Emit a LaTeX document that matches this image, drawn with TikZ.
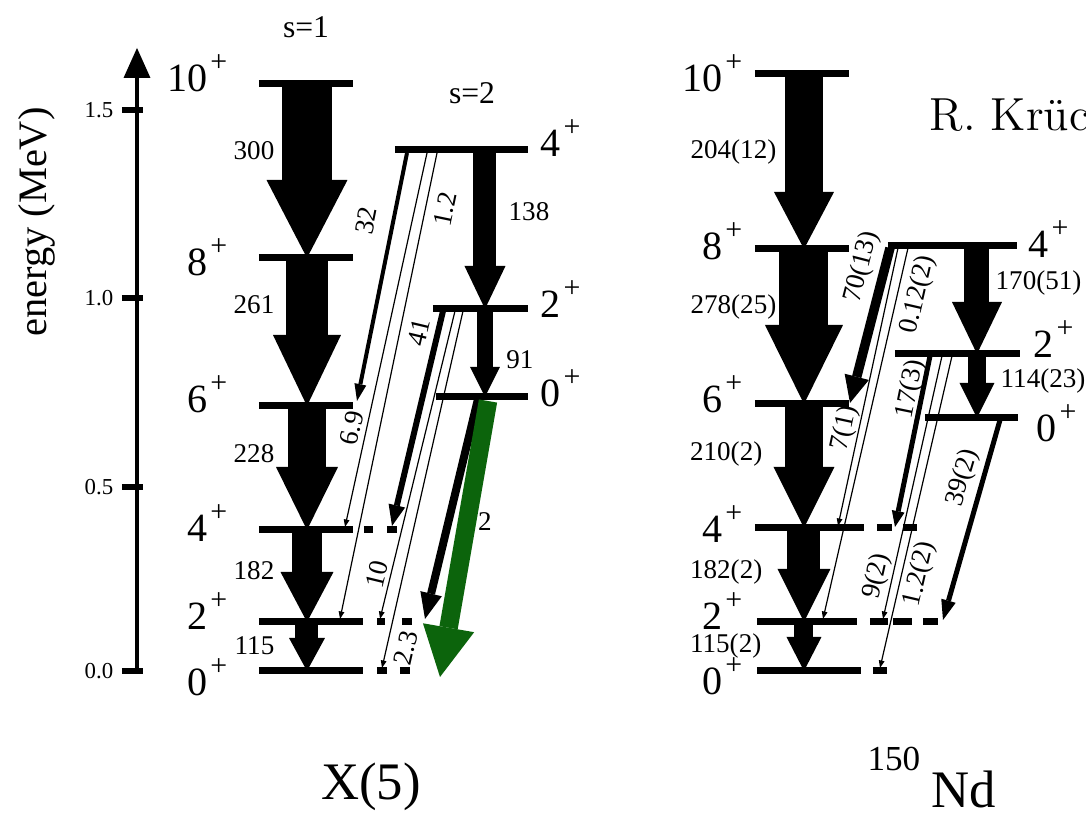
\documentclass[tikz,border=0pt]{standalone}
\usepackage{fontspec}
\setmainfont{Liberation Serif}
\newfontfamily\lmfont{lmroman12-regular.otf}
\usetikzlibrary{arrows.meta}
\definecolor{verde}{RGB}{12,100,12}
\newcommand{\spinp}[1]{#1\kern0.3mm\raisebox{0.5em}{\fontsize{8.5}{9}\selectfont +}}

\begin{document}
\begin{tikzpicture}[
    x=0.1mm, y=-0.1mm,
    livello/.style={
        line width=0.7mm
    },
    grossa/.style n args={3}{
        line width=#1,
        -{Triangle[width=#2, length=#3, line width=0pt]}
    },
    sottile/.style={
        line width=0.12mm,
        -{Triangle[width=0.55mm, length=0.75mm]}
    },
    spin/.style={
        inner sep=0pt,
        font=\fontsize{11.4}{12}\selectfont
    },
    bee/.style={
        inner sep=0pt,
        font=\fontsize{7.7}{8}\selectfont
    },
    scala/.style={
        inner sep=0pt,
        font=\fontsize{6.5}{7}\selectfont
    }
]
    \useasboundingbox (0,0) rectangle (1086,814);

    % Asse delle energie
    \coordinate (asse0) at (137,673);
    \coordinate (asse1) at (137,48);
    \draw[line width=0.4mm, -{Triangle[width=2.7mm, length=3mm, line width=0pt]}] (asse0) -- (asse1);
    \foreach \y/\t [count=\i] in {110/1.5, 298/1.0, 487/0.5, 671/0.0} {
        \draw[line width=0.6mm] (122,\y) -- (143,\y);
        \node[scala, anchor=east] (tacca\i) at (114,\y) {\t};
    }
    \node[rotate=90, font=\fontsize{11.5}{12}\selectfont] (energia) at (37,222) {energy (MeV)};

    % X(5): banda s=1
    \node[font=\fontsize{9}{10}\selectfont] (s1) at (306,27) {s=1};
    \foreach \y in {84, 258, 406, 530} \draw[livello] (259,\y) -- (353,\y);
    \foreach \y in {622, 671} \draw[livello] (259,\y) -- (363,\y);
    \draw[livello] (364,530) -- (373,530);  \draw[livello] (387,530) -- (397,530);
    \draw[livello] (377,622) -- (385,622);  \draw[livello] (402,622) -- (412,622);
    \draw[livello] (377,671) -- (387,671);  \draw[livello] (400,671) -- (410,671);
    \foreach \j/\y in {10/92, 8/276, 6/413, 4/542, 2/630, 0/696}
        \node[spin, anchor=base east] (xl\j) at (228,\y) {\spinp{\j}};

    \coordinate (x10) at (307,84);
    \coordinate (x8) at (307,258);
    \coordinate (x6) at (307,406);
    \coordinate (x4) at (307,530);
    \coordinate (x2) at (307,622);
    \coordinate (x0) at (307,671);
    \draw[grossa={5mm}{8.1mm}{7.8mm}] (x10) -- (x8);
    \draw[grossa={4.3mm}{6.8mm}{7.1mm}] (x8) -- (x6);
    \draw[grossa={3.9mm}{6.2mm}{6.3mm}] (x6) -- (x4);
    \draw[grossa={3.1mm}{5.3mm}{5mm}] (x4) -- (x2);
    \draw[grossa={2.3mm}{3.6mm}{3.3mm}] (x2) -- (x0);
    \node[bee, anchor=east] (b300) at (275,151) {300};
    \node[bee, anchor=east] (b261) at (275,305) {261};
    \node[bee, anchor=east] (b228) at (275,454) {228};
    \node[bee, anchor=east] (b182) at (275,571) {182};
    \node[bee, anchor=east] (b115) at (275,646) {115};

    % X(5): banda s=2
    \node[font=\fontsize{9}{10}\selectfont] (s2) at (472,93) {s=2};
    \draw[livello] (395,150) -- (528,150);
    \draw[livello] (433,309) -- (528,309);
    \draw[livello] (436,397) -- (528,397);
    \node[spin, anchor=base west] (yl4) at (540,157) {\spinp{4}};
    \node[spin, anchor=base west] (yl2) at (540,318) {\spinp{2}};
    \node[spin, anchor=base west] (yl0) at (540,407) {\spinp{0}};
    \coordinate (y4) at (485,150);
    \coordinate (y2) at (485,309);
    \coordinate (y0) at (485,397);
    \draw[grossa={2.3mm}{4.1mm}{4.3mm}] (y4) -- (y2);
    \draw[grossa={1.6mm}{3mm}{3mm}] (y2) -- (y0);
    \node[bee] (b138) at (529,212) {138};
    \node[bee] (b91) at (520,360) {91};

    % X(5): transizioni tra le bande
    \coordinate (a32) at (407,153);  \coordinate (e32) at (357,401);
    \coordinate (a69) at (427,153);  \coordinate (e69) at (345,527);
    \coordinate (a12) at (437,153);  \coordinate (e12) at (340,619);
    \coordinate (a41) at (443,311);  \coordinate (e41) at (392,526);
    \coordinate (a10) at (455,311);  \coordinate (e10) at (380,619);
    \coordinate (a23) at (463,311);  \coordinate (e23) at (382,668);
    \coordinate (a2) at (478,399);   \coordinate (e2) at (425,619);
    \coordinate (av) at (488,401);   \coordinate (ev) at (440,677);
    \draw[grossa={0.4mm}{1.2mm}{1.7mm}] (a32) -- (e32);
    \draw[sottile] (a69) -- (e69);
    \draw[sottile] (a12) -- (e12);
    \draw[grossa={0.6mm}{1.7mm}{2.1mm}] (a41) -- (e41);
    \draw[sottile] (a10) -- (e10);
    \draw[sottile] (a23) -- (e23);
    \draw[grossa={0.8mm}{2.2mm}{2.6mm}] (a2) -- (e2);
    \draw[grossa={1.85mm}{5.2mm}{5mm}, verde] (av) -- (ev);
    \node[bee, rotate=78.7] (l32) at (366,221) {32};
    \node[bee, rotate=78.3] (l12) at (445,209) {1.2};
    \node[bee, rotate=76.7] (l41) at (419,332) {41};
    \node[bee, rotate=77.7] (l69) at (352,428) {6.9};
    \node[bee, rotate=76.4] (l10) at (377,574) {10};
    \node[bee, rotate=77.2] (l23) at (406,648) {2.3};
    \node[bee] (l2) at (485,522) {2};

    % 150Nd: banda fondamentale
    \foreach \y in {74, 249, 404} \draw[livello] (755,\y) -- (849,\y);
    \draw[livello] (755,528) -- (864,528);
    \draw[livello] (757,622) -- (857,622);
    \draw[livello] (757,671) -- (861,671);
    \draw[livello] (877,528) -- (892,528);  \draw[livello] (903,528) -- (917,528);
    \draw[livello] (870,622) -- (888,622);  \draw[livello] (893,622) -- (912,622);
    \draw[livello] (923,622) -- (938,622);
    \draw[livello] (873,671) -- (887,671);
    \foreach \j/\y in {10/92, 8/260, 6/413, 4/543, 2/630, 0/695}
        \node[spin, anchor=base east] (nl\j) at (743,\y) {\spinp{\j}};

    \coordinate (n10) at (804,74);
    \coordinate (n8) at (804,249);
    \coordinate (n6) at (804,404);
    \coordinate (n4) at (804,528);
    \coordinate (n2) at (804,622);
    \coordinate (n0) at (804,671);
    \draw[grossa={3.8mm}{6mm}{5.7mm}] (n10) -- (n8);
    \draw[grossa={4.9mm}{7.8mm}{7.9mm}] (n8) -- (n6);
    \draw[grossa={3.8mm}{6.1mm}{6.1mm}] (n6) -- (n4);
    \draw[grossa={3.3mm}{5.3mm}{5.3mm}] (n4) -- (n2);
    \draw[grossa={1.9mm}{3.5mm}{3.4mm}] (n2) -- (n0);
    \node[bee, anchor=east] (c204) at (777,152) {204(12)};
    \node[bee, anchor=east] (c278) at (777,307) {278(25)};
    \node[bee, anchor=east] (c210) at (763,454) {210(2)};
    \node[bee, anchor=east] (c182) at (763,572) {182(2)};
    \node[bee, anchor=east] (c115) at (762,646) {115(2)};

    % 150Nd: seconda banda
    \draw[livello] (888,246) -- (1017,246);
    \draw[livello] (895,354) -- (1020,354);
    \draw[livello] (925,418) -- (1018,418);
    \node[spin, anchor=base west] (ml4) at (1028,258) {\spinp{4}};
    \node[spin, anchor=base west] (ml2) at (1033,358) {\spinp{2}};
    \node[spin, anchor=base west] (ml0) at (1036,442) {\spinp{0}};
    \coordinate (m4) at (977,246);
    \coordinate (m2) at (977,354);
    \coordinate (m0) at (977,418);
    \draw[grossa={2.5mm}{5mm}{5.2mm}] (m4) -- (m2);
    \draw[grossa={1.8mm}{3.5mm}{3.5mm}] (m2) -- (m0);
    \node[bee, anchor=west] (c170) at (995,283) {170(51)};
    \node[bee, anchor=west] (c114) at (1000,381) {114(23)};

    % 150Nd: transizioni tra le bande
    \coordinate (p70) at (890,248);   \coordinate (q70) at (850,403);
    \coordinate (p7) at (898,248);    \coordinate (q7) at (838,526);
    \coordinate (p012) at (908,248);  \coordinate (q012) at (823,619);
    \coordinate (p17) at (930,356);   \coordinate (q17) at (895,527);
    \coordinate (p9) at (942,356);    \coordinate (q9) at (883,619);
    \coordinate (p12) at (952,356);   \coordinate (q12) at (880,668);
    \coordinate (p39) at (1000,420);  \coordinate (q39) at (943,620);
    \draw[grossa={0.95mm}{2.5mm}{2.7mm}] (p70) -- (q70);
    \draw[sottile] (p7) -- (q7);
    \draw[sottile] (p012) -- (q012);
    \draw[grossa={0.5mm}{1.3mm}{1.6mm}] (p17) -- (q17);
    \draw[sottile] (p9) -- (q9);
    \draw[sottile] (p12) -- (q12);
    \draw[grossa={0.5mm}{1.5mm}{2mm}] (p39) -- (q39);
    \node[bee, rotate=75.6] (k70) at (862,267) {70(13)};
    \node[bee, rotate=77.1] (k012) at (918,295) {0.12(2)};
    \node[bee, rotate=78.5] (k17) at (911,389) {17(3)};
    \node[bee, rotate=77.9] (k7) at (845,428) {7(1)};
    \node[bee, rotate=77.3] (k9) at (877,576) {9(2)};
    \node[bee, rotate=77] (k12) at (920,574) {1.2(2)};
    \node[bee, rotate=73.8] (k39) at (963,478) {39(2)};

    % Titoli
    \node[anchor=base west, inner sep=0pt, font=\lmfont\fontsize{13.2}{14}\selectfont] (autore) at (929,131) {R. Krück};
    \node[anchor=base, inner sep=0pt, font=\fontsize{15}{16}\selectfont] (x5) at (371,800) {X(5)};
    \node[anchor=base west, inner sep=0pt, font=\fontsize{15}{16}\selectfont] (nd) at (931,808) {Nd};
    \node[anchor=base east, inner sep=0pt, font=\fontsize{10}{11}\selectfont] (a150) at (921,771) {150};

\end{tikzpicture}
\end{document}
